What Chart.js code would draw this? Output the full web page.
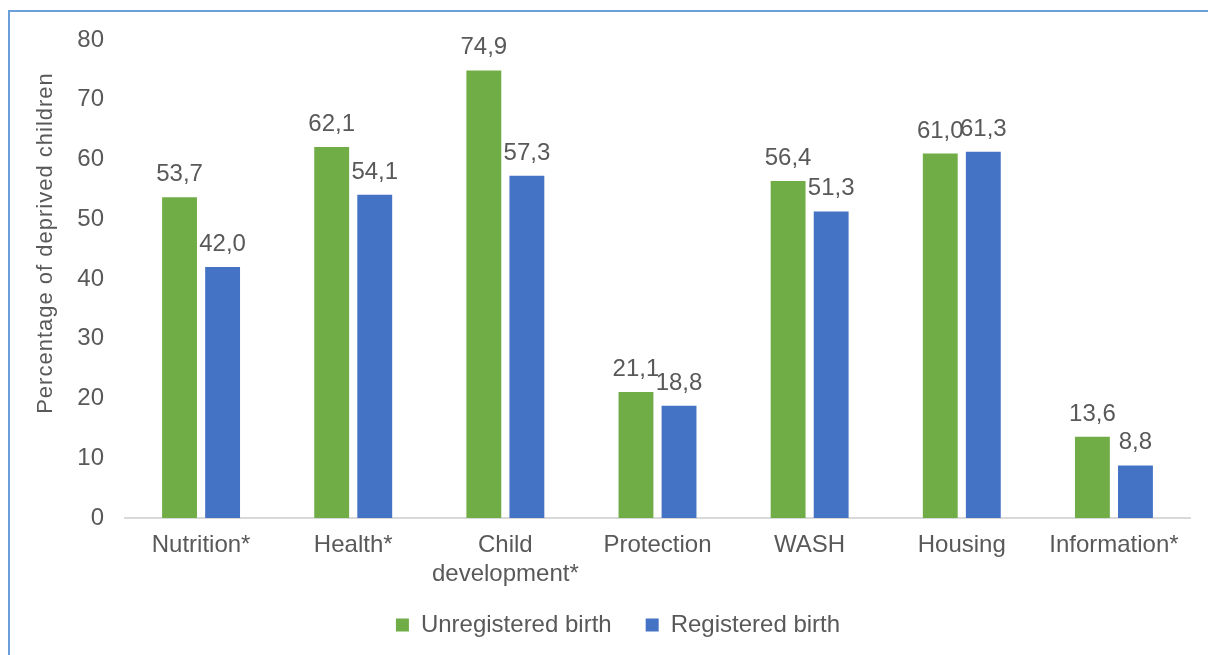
<!DOCTYPE html>
<html>
<head>
<meta charset="utf-8">
<script src="https://cdn.jsdelivr.net/npm/chart.js@4.4.0/dist/chart.umd.min.js"></script>
<style>
  html, body { margin: 0; padding: 0; background: #fff; }
  #wrap { position: relative; width: 1208px; height: 655px; overflow: hidden; }
  #frame { position: absolute; left: 8px; top: 10px; width: 1300px; height: 700px;
           border-left: 2px solid #6a9fd8; border-top: 2px solid #6a9fd8; pointer-events: none; }
  canvas { position: absolute; left: 0; top: 0; }
</style>
</head>
<body>
<div id="wrap">
  <canvas id="c" width="1208" height="655"></canvas>
  <div id="frame"></div>
</div>
<script>
// Deprivation by dimension, split by birth registration status
const categories = ['Nutrition*', 'Health*', ['Child', 'development*'], 'Protection', 'WASH', 'Housing', 'Information*'];
const unregistered = [53.7, 62.1, 74.9, 21.1, 56.4, 61.0, 13.6];
const registered = [42.0, 54.1, 57.3, 18.8, 51.3, 61.3, 8.8];
const seriesNames = ['Unregistered birth', 'Registered birth'];
const yTicks = [0, 10, 20, 30, 40, 50, 60, 70, 80];
const yTitle = 'Percentage of deprived children';

const TEXT = '#595959';
const FONT = 'Liberation Sans, Arial, sans-serif';
const FS = 24;
const LEGEND_PAD = 34;
const LEGEND_CENTER_Y = 625;
const PLOT_BOTTOM = 518;

// Values above each bar, decimal comma
const valueLabels = {
  id: 'valueLabels',
  afterDatasetsDraw(chart) {
    const ctx = chart.ctx;
    ctx.save();
    ctx.font = FS + 'px ' + FONT;
    ctx.fillStyle = TEXT;
    ctx.textAlign = 'center';
    ctx.textBaseline = 'alphabetic';
    chart.data.datasets.forEach((ds, i) => {
      chart.getDatasetMeta(i).data.forEach((bar, j) => {
        const txt = ds.data[j].toFixed(1).replace('.', ',');
        ctx.fillText(txt, bar.x, bar.y - 16);
      });
    });
    ctx.restore();
  }
};

// Rotated y-axis title
const axisTitle = {
  id: 'axisTitle',
  afterDraw(chart) {
    const ctx = chart.ctx;
    ctx.save();
    ctx.font = '22px ' + FONT;
    ctx.fillStyle = TEXT;
    ctx.textAlign = 'center';
    ctx.textBaseline = 'middle';
    ctx.translate(46, 243);
    ctx.rotate(-Math.PI / 2);
    if ('letterSpacing' in ctx) ctx.letterSpacing = '1px';
    ctx.fillText(yTitle, 0, 0);
    ctx.restore();
  }
};

// Keep the wide legend item spacing but place the row at a fixed height
const legendRow = {
  id: 'legendRow',
  afterLayout(chart) {
    const lg = chart.legend;
    if (!lg) return;
    const current = lg.top + LEGEND_PAD + FS / 2;
    const dy = LEGEND_CENTER_Y - current;
    lg.top += dy;
    lg.bottom += dy;
  }
};

new Chart(document.getElementById('c'), {
  type: 'bar',
  data: {
    labels: categories,
    datasets: [
      { label: seriesNames[0], data: unregistered, backgroundColor: '#70ad47' },
      { label: seriesNames[1], data: registered, backgroundColor: '#4472c4' }
    ]
  },
  plugins: [valueLabels, axisTitle, legendRow],
  options: {
    responsive: false,
    animation: false,
    devicePixelRatio: 1,
    categoryPercentage: 0.566,
    barPercentage: 0.81,
    layout: { padding: { left: 46, right: 18, top: 40, bottom: 0 } },
    plugins: {
      tooltip: { enabled: false },
      legend: {
        position: 'bottom',
        labels: {
          color: TEXT,
          font: { family: FONT, size: FS },
          boxWidth: 13,
          boxHeight: 13,
          padding: LEGEND_PAD
        }
      }
    },
    scales: {
      x: {
        grid: { display: false, drawTicks: false },
        border: { display: true, color: '#d9d9d9', width: 2 },
        ticks: { color: TEXT, font: { family: FONT, size: FS, lineHeight: 1.2 }, padding: 13, maxRotation: 0, autoSkip: false },
        afterFit(s) {
          const lg = s.chart.legend;
          const lgH = lg ? lg.height : 0;
          s.height = 655 - PLOT_BOTTOM - lgH;
        }
      },
      y: {
        min: 0,
        max: 80,
        afterBuildTicks(s) { s.ticks = yTicks.map(v => ({ value: v })); },
        grid: { display: false, drawTicks: false },
        border: { display: false },
        ticks: { color: TEXT, font: { family: FONT, size: FS }, padding: 21 },
        afterFit(s) { s.width = 79; }
      }
    }
  }
});
</script>
</body>
</html>
